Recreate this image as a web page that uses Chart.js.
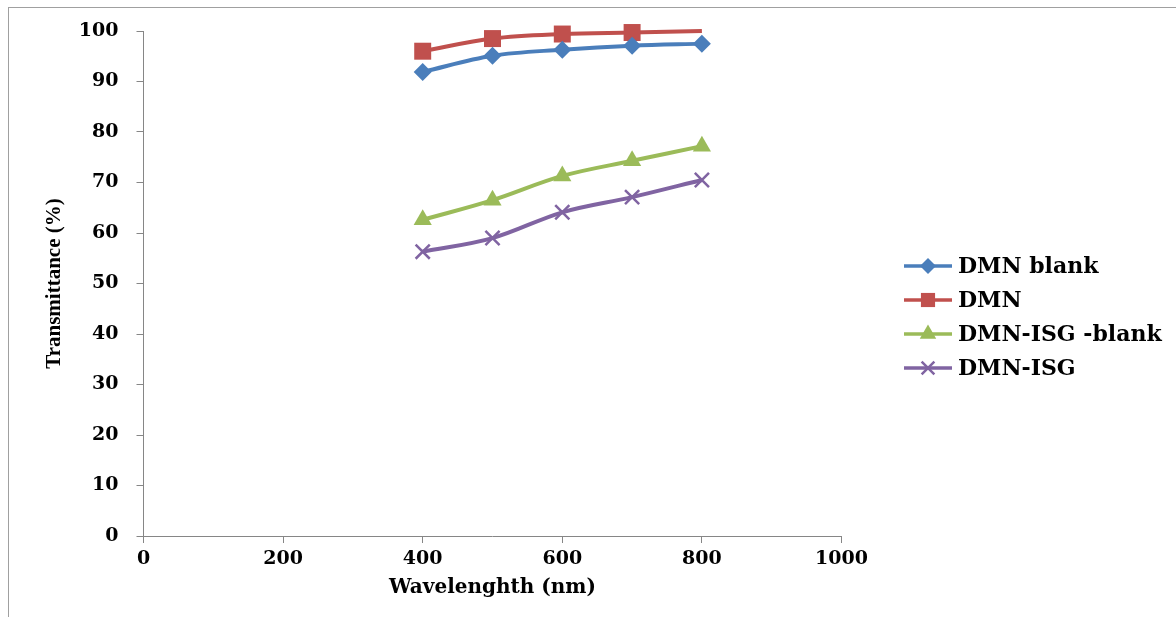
<!DOCTYPE html>
<html>
<head>
<meta charset="utf-8">
<script src="https://cdn.jsdelivr.net/npm/chart.js@4/dist/chart.umd.min.js"></script>
<style>
  html, body { margin: 0; padding: 0; background: #ffffff; }
  #wrap { position: relative; width: 1176px; height: 617px; overflow: hidden; }
  #frame { position: absolute; left: 8px; top: 7px; width: 1180px; height: 620px;
           border-left: 1px solid #a0a0a0; border-top: 1px solid #a0a0a0; pointer-events: none; }
  canvas { position: absolute; left: 0; top: 0; }
</style>
</head>
<body>
<div id="wrap">
  <canvas id="c" width="1176" height="617"></canvas>
  <div id="frame"></div>
</div>
<script>
// ---- data ----
const wavelengths = [400, 500, 600, 700, 800];
const seriesNames = ['DMN blank', 'DMN', 'DMN-ISG -blank', 'DMN-ISG'];
const dmnBlank = [91.9, 95.1, 96.3, 97.1, 97.5];
const dmn = [96.0, 98.5, 99.4, 99.7, 100];
const dmnIsgBlank = [62.6, 66.5, 71.3, 74.3, 77.2];
const dmnIsg = [56.3, 59.0, 64.1, 67.1, 70.5];
const xTicks = [0, 200, 400, 600, 800, 1000];
const yTicks = [0, 10, 20, 30, 40, 50, 60, 70, 80, 90, 100];

const seriesValues = [dmnBlank, dmn, dmnIsgBlank, dmnIsg];
const colors = ['#4A7EBB', '#C0504D', '#9BBB59', '#8064A2'];
const styles = ['rectRot', 'rect', 'triangle', 'crossRot'];
const radii = [9, 12, 10.5, 10];

const datasets = seriesValues.map((vals, i) => ({
  label: seriesNames[i],
  data: wavelengths.map((w, j) => ({ x: w, y: vals[j] })),
  borderColor: colors[i],
  backgroundColor: colors[i],
  borderWidth: 4,
  pointStyle: styles[i],
  pointRadius: (i === 1) ? [radii[i], radii[i], radii[i], radii[i], 0] : radii[i],
  pointBorderWidth: (i === 3) ? 2.5 : 0,
  pointBorderColor: colors[i],
  pointBackgroundColor: colors[i],
  tension: 0.35,
  clip: false
}));

const legendPlugin = {
  id: 'excelLegend',
  afterDraw(chart) {
    const ctx = chart.ctx;
    const x0 = 904, x1 = 952, tx = 958;
    const y0 = 266, step = 34;
    ctx.save();
    chart.data.datasets.forEach((ds, i) => {
      const y = y0 + i * step;
      ctx.strokeStyle = ds.borderColor;
      ctx.lineWidth = 3.5;
      ctx.beginPath();
      ctx.moveTo(x0, y);
      ctx.lineTo(x1, y);
      ctx.stroke();
      ctx.fillStyle = ds.backgroundColor;
      ctx.strokeStyle = ds.borderColor;
      const bw = (i === 3) ? 2.5 : 0;
      ctx.lineWidth = bw;
      Chart.helpers.drawPoint(ctx, {
        pointStyle: styles[i], rotation: 0, borderWidth: bw,
        radius: (i === 1) ? 10 : radii[i] - 1
      }, (x0 + x1) / 2, y);
      ctx.fillStyle = '#000000';
      ctx.font = 'bold 22px "DejaVu Serif"';
      ctx.textAlign = 'left';
      ctx.textBaseline = 'middle';
      ctx.fillText(ds.label, tx, y + 1);
    });
    ctx.restore();
  }
};

new Chart(document.getElementById('c'), {
  type: 'line',
  data: { datasets },
  options: {
    responsive: false,
    animation: false,
    events: [],
    layout: { padding: { left: 0, top: 31, right: 334.5, bottom: 0 } },
    plugins: { legend: { display: false }, tooltip: { enabled: false } },
    scales: {
      x: {
        type: 'linear',
        min: 0, max: 1000,
        afterBuildTicks: (s) => { s.ticks = xTicks.map(v => ({ value: v })); },
        afterFit: (s) => { s.height = 81; },
        grid: { drawOnChartArea: false, drawTicks: true, tickLength: 7, color: '#868686' },
        border: { color: '#868686', width: 1 },
        ticks: { color: '#000', padding: 5, font: { family: 'DejaVu Serif', weight: 'bold', size: 19 },
                 maxRotation: 0, callback: (v) => String(v) },
        title: { display: true, text: 'Wavelenghth (nm)', color: '#000',
                 font: { family: 'DejaVu Serif', weight: 'bold', size: 20 }, padding: { top: 0, bottom: 17 } }
      },
      y: {
        type: 'linear',
        min: 0, max: 100,
        afterBuildTicks: (s) => { s.ticks = yTicks.map(v => ({ value: v })); },
        afterFit: (s) => { s.width = 143.5; },
        grid: { drawOnChartArea: false, drawTicks: true, tickLength: 7, color: '#868686' },
        border: { color: '#868686', width: 1 },
        ticks: { color: '#000', padding: 18, font: { family: 'DejaVu Serif', weight: 'bold', size: 19 },
                 callback: (v) => String(v) },
        title: { display: true, text: 'Transmittance (%)', color: '#000',
                 font: { family: 'Liberation Serif', weight: 'bold', size: 21 }, padding: { top: 42, bottom: 0 } }
      }
    }
  },
  plugins: [legendPlugin]
});
</script>
</body>
</html>
